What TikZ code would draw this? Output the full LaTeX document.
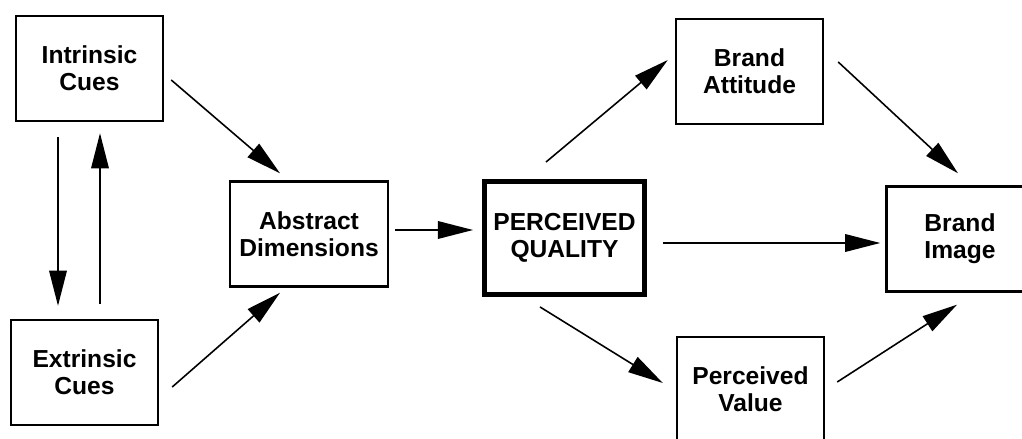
\documentclass[tikz,border=0pt]{standalone}
\usepackage{fontspec}
\setmainfont{Liberation Sans}
\usepackage{tikz}
\usetikzlibrary{arrows.meta}
\tikzstyle{flow} = [draw, line width=0.9pt, color=black, -{Triangle[length=20pt,width=10pt]}]
\tikzstyle{box} = [draw, line width=1.4pt, minimum width=2.94cm, minimum height=2.1cm, align=center, font=\bfseries\fontsize{14}{15.3}\selectfont]

\begin{document}
\begin{tikzpicture}[x=0.02cm,y=-0.02cm]
\useasboundingbox (0,0) rectangle (1022,439);

\node[box] (IC) at (89.5,68.5) {Intrinsic\\Cues};
\node[box] (EC) at (84.5,372.5) {Extrinsic\\Cues};
\node[box,minimum width=3.16cm] (AD) at (309,234) {Abstract\\Dimensions};
\node[box,line width=2.8pt,minimum width=3.2cm,minimum height=2.26cm] (PQ) at (564.5,238) {PERCEIVED\\QUALITY};
\node[box] (BA) at (749.5,71.5) {Brand\\Attitude};
\node[box] (PV) at (750.5,389.5) {Perceived\\Value};
\node[box] (BI) at (960,239) {Brand\\Image};

% cues
\draw[flow] ([shift={(7,11.5)}]IC.east) -- ([shift={(-29,-7)}]AD.north);
\draw[flow] ([shift={(13,14.5)}]EC.east) -- ([shift={(-29,5)}]AD.south);
\draw[flow] ([shift={(-31.5,15)}]IC.south) -- ([shift={(-26.5,-13)}]EC.north);
\draw[flow] ([shift={(15.5,-15)}]EC.north) -- ([shift={(10.5,11)}]IC.south);

\draw[flow] ([shift={(6,-4)}]AD.east) -- ([shift={(-9,-8)}]PQ.west);

% quality
\draw[flow] ([shift={(-18.5,-17)}]PQ.north) -- ([shift={(-7,-11.5)}]BA.west);
\draw[flow] ([shift={(-24.5,10)}]PQ.south) -- ([shift={(-13,-6.5)}]PV.west);
\draw[flow] ([shift={(16,5)}]PQ.east) -- ([shift={(-5,4)}]BI.west);

\draw[flow] ([shift={(14,-9.5)}]BA.east) -- ([shift={(-2,-12)}]BI.north);
\draw[flow] ([shift={(12,-7.5)}]PV.east) -- ([shift={(-3,12)}]BI.south);

\end{tikzpicture}
\end{document}
